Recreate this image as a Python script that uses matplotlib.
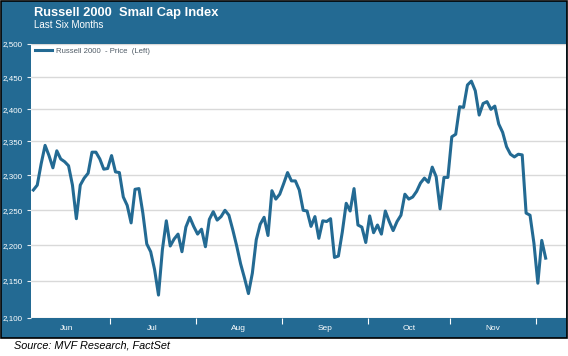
import numpy as np
import pandas as pd
import matplotlib
matplotlib.use("Agg")
import matplotlib.pyplot as plt
from matplotlib.patches import Rectangle
from matplotlib.ticker import FuncFormatter, FixedLocator

plt.rcParams['font.family'] = ['Liberation Sans', 'DejaVu Sans']

# ---------------- data ----------------
start_date = "2021-06-03"
end_date = "2021-12-03"
series_label = "Russell 2000  - Price  (Left)"
values = [
    2279, 2286, 2317, 2344, 2329, 2311, 2336, 2324, 2320, 2314,
    2286, 2238, 2286, 2296, 2303, 2334, 2334, 2324, 2309, 2310,
    2329, 2305, 2304, 2269, 2257, 2232, 2280, 2281, 2246, 2202,
    2191, 2166, 2131, 2194, 2235, 2199, 2209, 2216, 2191, 2226,
    2240, 2227, 2216, 2223, 2198, 2237, 2248, 2236, 2241, 2250,
    2243, 2222, 2199, 2174, 2154, 2133, 2161, 2208, 2230, 2240,
    2214, 2278, 2266, 2273, 2288, 2304, 2292, 2292, 2279, 2250,
    2249, 2227, 2241, 2210, 2235, 2234, 2238, 2183, 2185, 2219,
    2260, 2249, 2281, 2229, 2226, 2204, 2242, 2218, 2229, 2216,
    2249, 2234, 2221, 2234, 2243, 2273, 2266, 2269, 2277, 2289,
    2296, 2290, 2312, 2298, 2252, 2297, 2297, 2357, 2361, 2404,
    2403, 2438, 2444, 2429, 2391, 2409, 2412, 2400, 2405, 2377,
    2364, 2342, 2331, 2327, 2331, 2330, 2246, 2243, 2203, 2147,
    2207, 2182,
]
y_ticks = [2100, 2150, 2200, 2250, 2300, 2350, 2400, 2450, 2500]
title = "Russell 2000  Small Cap Index"
subtitle = "Last Six Months"
source = "Source: MVF Research, FactSet"

# ---------------- styling / layout ----------------
BLUE = "#236a93"
LINE = "#236a93"
W, H = 568, 356

dates = pd.bdate_range(start_date, end_date)
x = np.arange(len(dates))

# month boundaries on the weekday axis
all_days = pd.bdate_range("2021-06-01", "2021-12-31")
offset = list(all_days).index(pd.Timestamp(start_date))
idx_all = np.arange(len(all_days)) - offset
months = all_days.to_period("M")
bounds = [idx_all[0] - 0.5]
for i in range(1, len(all_days)):
    if months[i] != months[i - 1]:
        bounds.append(idx_all[i] - 0.5)
names = [m.strftime("%b") for m in pd.unique(months)]
bounds.append(idx_all[-1] + 0.5)
centers = [(bounds[i] + bounds[i + 1]) / 2 for i in range(len(bounds) - 1)]
major_b = bounds[1:-1]

# axis scale following the reference's gridline spacing
scale_v = [1000, 2100, 2150, 2200, 2250, 2300, 2350, 2400, 2450, 2500, 4000]
scale_p = [-814, 0, 37, 72.7, 107.7, 142.7, 176.7, 208.7, 240.7, 274, 1273]
fwd = lambda v: np.interp(v, scale_v, scale_p)
inv = lambda p: np.interp(p, scale_p, scale_v)

fig = plt.figure(figsize=(W / 100, H / 100), dpi=100)
fig.patch.set_facecolor("white")
bg = Rectangle((0.5 / W, 1 - 337.5 / H), 566.5 / W, 337 / H,
               transform=fig.transFigure, facecolor=BLUE,
               edgecolor="black", lw=1.2, zorder=-5)
fig.patches.append(bg)

ax = fig.add_axes([31 / W, 1 - 318 / H, 535 / W, 274 / H])
ax.set_zorder(5)
ax.set_facecolor("white")
ax.set_yscale("function", functions=(fwd, inv))
ax.plot(x, values, color=LINE, lw=2.2, solid_joinstyle="round",
        label=series_label, zorder=3)
ax.set_ylim(2100, 2500)
ax.set_xlim(-0.6, 136.2)
ax.yaxis.set_major_locator(FixedLocator(y_ticks))
ax.yaxis.set_minor_locator(FixedLocator([]))
ax.yaxis.set_major_formatter(FuncFormatter(lambda v, p: f"{int(round(v)):,}"))
ax.grid(axis="y", color="#d9d9d9", lw=1.0)
for s in ax.spines.values():
    s.set_visible(False)
ax.tick_params(axis="y", colors="#e8eef3", labelcolor="white", labelsize=5.8,
               length=3, width=0.8, pad=3)

ax.xaxis.set_major_locator(FixedLocator(major_b))
ax.xaxis.set_minor_locator(FixedLocator(centers))
ax.xaxis.set_major_formatter(FuncFormatter(lambda v, p: ""))
ax.xaxis.set_minor_formatter(FuncFormatter(
    lambda v, p: names[centers.index(v)] if v in centers else ""))
ax.tick_params(axis="x", which="major", colors="white", length=4, width=0.8)
ax.tick_params(axis="x", which="minor", length=0, labelcolor="white",
               labelsize=6, pad=5)

leg = ax.legend(loc="upper left", frameon=False, fontsize=5.6,
                handlelength=2.2, handletextpad=0.55,
                borderaxespad=0.0, borderpad=0.45)
for t in leg.get_texts():
    t.set_color("#4f5b66")

fig.text(34 / W, 1 - 16 / H, title, fontsize=9.3, weight="bold",
         color="white", va="baseline")
fig.text(34 / W, 1 - 28 / H, subtitle, fontsize=7, color="white",
         va="baseline")
fig.text(14 / W, 1 - 349 / H, source, fontsize=7.8, style="italic",
         color="black", va="baseline")

fig.savefig("out.png", dpi=100)
